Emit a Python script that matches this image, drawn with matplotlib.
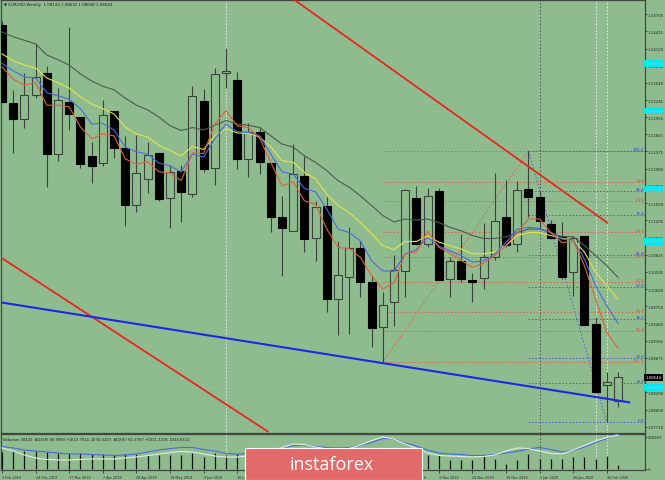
import matplotlib
matplotlib.use("Agg")
import matplotlib.pyplot as plt
from matplotlib.patches import Rectangle
from matplotlib.transforms import blended_transform_factory

# EURUSD weekly candles, week of 3 Feb 2019 .. week of 23 Feb 2020
opens = [1.14518, 1.13191, 1.12925, 1.13337, 1.13705, 1.12332, 1.13213, 1.12954, 1.12293, 1.12179,
         1.13056, 1.12433, 1.11467, 1.11903, 1.12344, 1.11586, 1.12039, 1.11649, 1.13225, 1.12100,
         1.13710, 1.13591, 1.12242, 1.12710, 1.12174, 1.11259, 1.11032, 1.11964, 1.10903, 1.11455,
         1.09874, 1.10242, 1.10738, 1.10167, 1.09394, 1.09828, 1.10344, 1.11591, 1.10806, 1.11699,
         1.10213, 1.10523, 1.10201, 1.10225, 1.10591, 1.11259, 1.10806, 1.11739, 1.11598, 1.11145,
         1.10937, 1.10327, 1.10937, 1.09450, 1.08421, 1.08143]
highs = [1.14591, 1.13422, 1.13705, 1.14191, 1.13818, 1.13445, 1.14479, 1.12967, 1.12540, 1.13247,
         1.13061, 1.12632, 1.12654, 1.12530, 1.12349, 1.12145, 1.12150, 1.13479, 1.13433, 1.13784,
         1.14123, 1.13717, 1.12852, 1.12794, 1.12179, 1.11625, 1.12501, 1.12303, 1.11540, 1.11608,
         1.10852, 1.11089, 1.10862, 1.10259, 1.09988, 1.10625, 1.11739, 1.11784, 1.11755, 1.11750,
         1.10591, 1.10976, 1.10315, 1.11162, 1.12010, 1.11891, 1.11869, 1.12383, 1.11710, 1.11213,
         1.11184, 1.10947, 1.10942, 1.09564, 1.08632, 1.08632]
lows = [1.13205, 1.12344, 1.12767, 1.13281, 1.11767, 1.12218, 1.12739, 1.12094, 1.11835, 1.12133,
        1.12264, 1.11116, 1.11344, 1.11671, 1.11540, 1.11072, 1.11174, 1.11603, 1.12027, 1.11811,
        1.13445, 1.12077, 1.11937, 1.11993, 1.11015, 1.10269, 1.11027, 1.10666, 1.10523, 1.09649,
        1.09269, 1.09281, 1.09903, 1.09055, 1.08801, 1.09421, 1.09913, 1.10789, 1.10750, 1.10188,
        1.09903, 1.10157, 1.09818, 1.10043, 1.10540, 1.10750, 1.10666, 1.11259, 1.11060, 1.10891,
        1.10213, 1.09930, 1.09421, 1.08281, 1.07784, 1.08048]
closes = [1.13213, 1.12925, 1.13337, 1.13637, 1.12332, 1.13247, 1.13010, 1.12162, 1.12133, 1.12993,
          1.12433, 1.11472, 1.12005, 1.12315, 1.11569, 1.12022, 1.11683, 1.13320, 1.12077, 1.13683,
          1.13744, 1.12247, 1.12710, 1.12191, 1.11269, 1.11077, 1.11993, 1.10891, 1.11428, 1.09874,
          1.10286, 1.10733, 1.10167, 1.09377, 1.09777, 1.10371, 1.11727, 1.10806, 1.11625, 1.10196,
          1.10513, 1.10213, 1.10167, 1.10591, 1.11191, 1.10794, 1.11727, 1.11598, 1.11201, 1.10903,
          1.10252, 1.10908, 1.09438, 1.08303, 1.08472, 1.08544]

# moving averages
ma_gray = [1.1440, 1.1432, 1.1426, 1.1420, 1.1401, 1.1393, 1.1384, 1.1369, 1.1357, 1.1348,
           1.1342, 1.1328, 1.1316, 1.1308, 1.1296, 1.1281, 1.1273, 1.1278, 1.1274, 1.1282,
           1.1290, 1.1284, 1.1282, 1.1278, 1.1264, 1.1250, 1.1245, 1.1230, 1.1219, 1.1205,
           1.1188, 1.1177, 1.1162, 1.1146, 1.1129, 1.1118, 1.1123, 1.1121, 1.1123, 1.1117,
           1.1109, 1.1103, 1.1095, 1.1090, 1.1090, 1.1093, 1.1100, 1.1106, 1.1106, 1.1100,
           1.1093, 1.1093, 1.1078, 1.1061, 1.1044, 1.1024]
ma_yellow = [1.1403, 1.1391, 1.1384, 1.1379, 1.1362, 1.1354, 1.1345, 1.1330, 1.1318, 1.1310,
             1.1301, 1.1279, 1.1267, 1.1262, 1.1248, 1.1239, 1.1230, 1.1246, 1.1241, 1.1264,
             1.1276, 1.1269, 1.1268, 1.1262, 1.1245, 1.1222, 1.1219, 1.1202, 1.1191, 1.1165,
             1.1146, 1.1134, 1.1117, 1.1098, 1.1078, 1.1071, 1.1085, 1.1085, 1.1094, 1.1084,
             1.1078, 1.1072, 1.1064, 1.1064, 1.1067, 1.1078, 1.1095, 1.1100, 1.1100, 1.1095,
             1.1090, 1.1088, 1.1067, 1.1033, 1.1010, 1.0987]
ma_blue = [1.1387, 1.1374, 1.1364, 1.1362, 1.1337, 1.1332, 1.1326, 1.1310, 1.1284, 1.1285,
           1.1274, 1.1245, 1.1237, 1.1233, 1.1218, 1.1213, 1.1203, 1.1233, 1.1228, 1.1259,
           1.1284, 1.1271, 1.1270, 1.1264, 1.1233, 1.1203, 1.1199, 1.1175, 1.1169, 1.1140,
           1.1106, 1.1100, 1.1086, 1.1052, 1.1035, 1.1034, 1.1064, 1.1071, 1.1092, 1.1077,
           1.1069, 1.1061, 1.1050, 1.1052, 1.1064, 1.1083, 1.1106, 1.1109, 1.1107, 1.1100,
           1.1089, 1.1088, 1.1055, 1.1010, 1.0976, 1.0946]
ma_red = [1.1381, 1.1360, 1.1350, 1.1354, 1.1316, 1.1316, 1.1313, 1.1279, 1.1259, 1.1267,
          1.1264, 1.1225, 1.1216, 1.1220, 1.1203, 1.1201, 1.1188, 1.1235, 1.1234, 1.1284,
          1.1307, 1.1281, 1.1278, 1.1260, 1.1219, 1.1179, 1.1186, 1.1154, 1.1148, 1.1106,
          1.1075, 1.1073, 1.1058, 1.1027, 1.1004, 1.1015, 1.1064, 1.1067, 1.1102, 1.1075,
          1.1065, 1.1053, 1.1041, 1.1048, 1.1061, 1.1078, 1.1100, 1.1123, 1.1123, 1.1100,
          1.1083, 1.1086, 1.1044, 1.0987, 1.0931, 1.0904]

# tick volume and the two ADX lines of the lower window
volumes = [135000, 137000, 140000, 140000, 130000, 125000, 122000, 122000, 120000, 118000,
           105000, 120000, 118000, 105000, 110000, 112000, 108000, 125000, 95000, 125000,
           110000, 118000, 108000, 100000, 115000, 120000, 125000, 110000, 100000, 125000,
           110000, 105000, 100000, 110000, 118000, 115000, 120000, 105000, 110000, 105000,
           70000, 72000, 70000, 110000, 78000, 40000, 70000, 118000, 80000, 80000,
           78000, 90000, 90000, 78000, 103000, 30420]
adx8 = [38.5, 36.1, 32.8, 31.1, 29.5, 27.9, 26.2, 26.2, 25.4, 24.6, 23.8, 24.6, 26.2, 29.5,
        32.8, 35.2, 36.9, 36.9, 33.6, 31.1, 27.0, 26.2, 27.0, 27.9, 31.1, 36.1, 40.2, 41.0,
        38.5, 36.9, 36.1, 36.9, 40.2, 45.1, 51.6, 50.8, 44.3, 39.3, 32.8, 27.9, 26.2, 25.4,
        23.8, 23.8, 25.4, 27.9, 30.3, 34.4, 36.9, 33.6, 29.5, 32.0, 37.7, 45.1, 51.6, 59.0]
adx5 = [51.8, 44.7, 35.3, 28.2, 24.7, 23.5, 23.5, 24.7, 25.9, 25.9, 25.9, 28.2, 30.6, 34.1,
        37.6, 41.2, 43.5, 42.4, 37.6, 32.9, 30.6, 30.6, 32.9, 35.3, 42.4, 52.9, 61.2, 60.0,
        54.1, 49.4, 48.2, 50.6, 58.8, 69.4, 77.6, 72.9, 61.2, 50.6, 40.0, 34.1, 32.9, 31.8,
        30.6, 31.8, 35.3, 44.7, 51.8, 50.6, 44.7, 38.8, 37.6, 47.1, 57.6, 68.2, 76.5, 82.4]

date_ticks = list(range(0, 56, 3))
date_labels = ["3 Feb 2019", "24 Feb 2019", "17 Mar 2019", "7 Apr 2019", "28 Apr 2019",
               "19 May 2019", "9 Jun 2019", "30 Jun 2019", "21 Jul 2019", "11 Aug 2019",
               "1 Sep 2019", "22 Sep 2019", "13 Oct 2019", "3 Nov 2019", "24 Nov 2019",
               "15 Dec 2019", "5 Jan 2020", "26 Jan 2020", "16 Feb 2020"]
price_ticks = [1.14705, 1.14415, 1.14120, 1.13830, 1.13540, 1.13245, 1.12955, 1.12665, 1.12375,
               1.12080, 1.11790, 1.11500, 1.11205, 1.10915, 1.10625, 1.10335, 1.10040, 1.09750,
               1.09460, 1.09165, 1.08875, 1.08585, 1.08290, 1.08000, 1.07710]
hidden_ticks = [1.08585]  # covered by the current-price box

# horizontal support / resistance levels (cyan)
cyan_levels = [1.1387, 1.1306, 1.1174, 1.1085, 1.0838]
# trend lines: (bar index, price)
red_line_top = [(26.0, 1.1496), (54.1, 1.1116)]
red_line_low = [(-0.2, 1.1059), (23.8, 1.0762)]
blue_line = [(-0.2, 1.0982), (56.1, 1.0812)]
# fibonacci grids: (bar, price) of the two anchors
fib_levels = [0.0, 14.6, 23.6, 38.2, 50.0, 61.8, 76.4, 85.4, 100.0]
fib_red = [(34, 1.08801), (47, 1.12383)]
fib_blue = [(47, 1.12383), (54, 1.07784)]
vlines_white = [20, 53, 54]
vline_dark = 48

BG = "#8fbc8f"
W, H = 665, 481
fig = plt.figure(figsize=(W / 100, H / 100), dpi=100, facecolor=BG)

def fx(px):
    return px / W

def fy(py):
    return 1 - py / H

ax = fig.add_axes([fx(1), fy(434), (645 - 1) / W, (434 - 1) / H], facecolor=BG)
ax2 = fig.add_axes([fx(1), fy(471), (645 - 1) / W, (471 - 435) / H], facecolor=BG)
# twin axes for the two ADX lines (each has its own scale)
ax3 = ax2.twinx()
ax4 = ax2.twinx()

x0, x1 = -1 / 11.2, 643 / 11.2
for a in (ax, ax2, ax3, ax4):
    a.set_xlim(x0, x1)
for a in (ax, ax2):
    for s in a.spines.values():
        s.set_color("#404840")
        s.set_linewidth(0.9)

ax.set_ylim(1.149593 - 0.0001695 * 434, 1.149593 - 0.0001695 * 1)

n = len(opens)
bw = 0.72
for i in range(n):
    o, h, l, c = opens[i], highs[i], lows[i], closes[i]
    ax.plot([i, i], [l, h], color="#3a443a", lw=0.8, zorder=3, solid_capstyle="butt")
    bull = c >= o
    lo, hi = min(o, c), max(o, c)
    ax.add_patch(Rectangle((i - bw / 2, lo), bw, max(hi - lo, 0.00004),
                           facecolor=BG if bull else "black",
                           edgecolor="#3a443a" if bull else "black", lw=0.8, zorder=4))

xs = list(range(n))
ax.plot(xs, ma_gray, color="#4f5a4f", lw=0.8, zorder=5)
ax.plot(xs, ma_yellow, color="#e3e34a", lw=0.8, zorder=5)
ax.plot(xs, ma_blue, color="#4a6ae0", lw=0.8, zorder=5)
ax.plot(xs, ma_red, color="#e0603c", lw=0.8, zorder=5)

for lv in cyan_levels:
    ax.axhline(lv, color="#40e0d0", lw=0.7, zorder=2)

for (xa, ya), (xb, yb), col, lw in [(red_line_top[0], red_line_top[1], "#e8261e", 1.3),
                                     (red_line_low[0], red_line_low[1], "#e8261e", 1.3),
                                     (blue_line[0], blue_line[1], "#1c28e6", 1.5)]:
    ax.plot([xa, xb], [ya, yb], color=col, lw=lw, zorder=6, solid_capstyle="butt")

trans = blended_transform_factory(ax.transAxes, ax.transData)
# red fibonacci: 0 at the high, 100 at the low
(ra, rlow), (rb, rhigh) = fib_red
ax.plot([ra, rb], [rlow, rhigh], color="#e0604a", lw=0.7, ls=(0, (1.5, 2)), zorder=2)
for lv in fib_levels:
    p = rhigh - lv / 100 * (rhigh - rlow)
    ax.plot([ra, x1], [p, p], color="#e0604a", lw=0.7, ls=(0, (1.5, 2)), zorder=2)
    if lv > 0:
        ax.text(0.9985, p, f"{lv:.1f}", transform=trans, color="#e0503a", fontsize=2.9,
                ha="right", va="bottom", zorder=7)
# blue fibonacci: 100 at the high, 0 at the low
(ba, bhigh), (bb, blow) = fib_blue
ax.plot([ba, bb], [bhigh, blow], color="#4a5ad0", lw=0.7, ls=(0, (1.5, 2)), zorder=2)
for lv in fib_levels:
    p = blow + lv / 100 * (bhigh - blow)
    ax.plot([ba, x1], [p, p], color="#4a5ad0", lw=0.7, ls=(0, (1.5, 2)), zorder=2)
    ax.text(0.9985, p, f"{lv:.1f}", transform=trans, color="#3a4ad0", fontsize=2.9,
            ha="right", va="bottom", zorder=7)

for a in (ax, ax2):
    for v in vlines_white:
        a.axvline(v, color="#e8eee8", lw=0.7, ls=(0, (1.5, 2)), zorder=1)
    a.axvline(vline_dark, color="#4a554a", lw=0.7, ls=(0, (1.5, 2)), zorder=1)

ax.set_xticks([])
ax.yaxis.tick_right()
ax.set_yticks(price_ticks)
ax.set_yticklabels(["" if p in hidden_ticks else f"{p:.5f}" for p in price_ticks])
ax.tick_params(axis="y", length=1.5, width=0.6, color="#303830", labelsize=2.8,
               pad=0.6, labelcolor="#202820")

for lv in cyan_levels:
    ax.text(1.0008, lv, f"{lv:.5f}", transform=trans, fontsize=2.8, color="#7ad8d8",
            va="center", ha="left", clip_on=False, zorder=8,
            bbox=dict(boxstyle="square,pad=0.35", fc="#00e8f0", ec="none"))
ax.text(1.0008, closes[-1], f"{closes[-1]:.5f}", transform=trans, fontsize=2.8, color="white",
        va="center", ha="left", clip_on=False, zorder=8,
        bbox=dict(boxstyle="square,pad=0.35", fc="black", ec="none"))

ax.text(0.004, 0.995, f"\u25bc EURUSD,Weekly  {opens[-1]:.5f} {highs[-1]:.5f} {lows[-1]:.5f} {closes[-1]:.5f}",
        transform=ax.transAxes, fontsize=2.9, color="#1a201a", ha="left", va="top")

# lower window: volumes + ADX
vmax = 250692
px_per = vmax / (470 - 437.7)
ax2.set_ylim(-px_per * 1, vmax + px_per * 2.7)
ax2.vlines(xs, 0, volumes, color="#101410", lw=0.9, zorder=3)
ax2.yaxis.tick_right()
ax2.yaxis.set_label_position("right")
ax2.set_yticks([0, vmax])
ax2.set_yticklabels(["0", str(vmax)])
ax2.tick_params(axis="y", which="both", left=False, labelleft=False, right=True, labelright=True,
                length=1.5, width=0.6, color="#303830", labelsize=2.8, pad=0.6,
                labelcolor="#202820")
ax2.set_xticks(date_ticks)
ax2.set_xticklabels(date_labels)
for t in ax2.get_xticklabels():
    t.set_ha("left")
ax2.tick_params(axis="x", length=2, width=0.6, color="#303830", labelsize=2.4,
                pad=1.5, labelcolor="#202820")

ax3.set_ylim(0, 59.0)
ax3.plot(xs, adx8, color="#4a6ae0", lw=0.8)
ax4.set_ylim(0, 84.7)
ax4.plot(xs, adx5, color="#e4ece4", lw=0.8)
for a in (ax3, ax4):
    a.set_yticks([])
    a.tick_params(axis="y", left=False, right=False, labelleft=False, labelright=False)
    for s in a.spines.values():
        s.set_visible(False)

ax2.text(0.003, 0.93, "Volumes 30420  ADX(8) 58.9980 +DI13.7914 -DI34.0223  ADX(5) 82.3767 +DI11.2218 -DI34.6512",
         transform=ax2.transAxes, fontsize=2.7, color="#1a201a", ha="left", va="top", zorder=9)

# watermark
fig.patches.append(Rectangle((fx(245), 0), (422 - 245) / W, (481 - 449) / H,
                             transform=fig.transFigure, facecolor="#e36a6a",
                             edgecolor="white", lw=0.8, zorder=10))
fig.text(fx(332), fy(465), "instaforex", color="white", fontsize=13, family="Open Sans",
         ha="center", va="center", zorder=11)

fig.savefig("out.png", dpi=100, facecolor=BG)
